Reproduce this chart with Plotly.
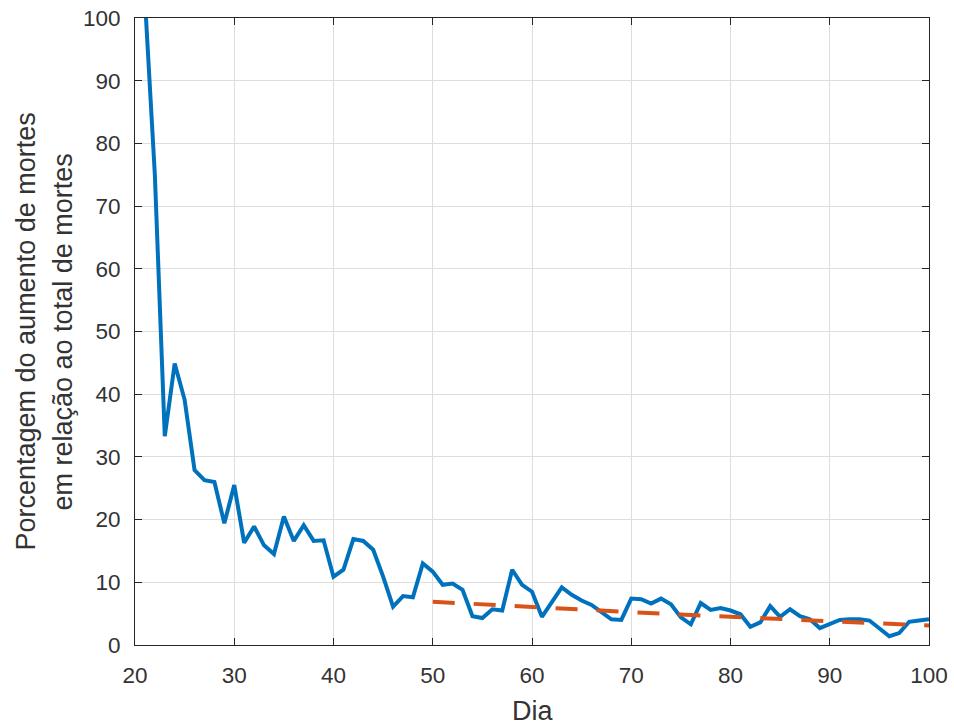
import plotly.graph_objects as go

# Daily percentage increase of deaths relative to total deaths
dias = list(range(21, 101))
porcentagem = [
    103.0, 75.0, 33.3, 44.9, 39.1, 27.9, 26.3, 26.0, 19.4, 25.5,   # 21-30
    16.3, 18.9, 15.9, 14.5, 20.5, 16.6, 19.1, 16.6, 16.7, 10.9,    # 31-40
    12.0, 16.9, 16.6, 15.2, 10.9, 6.1, 7.8, 7.6, 13.0, 11.7,       # 41-50
    9.6, 9.8, 8.8, 4.6, 4.3, 5.7, 5.5, 12.0, 9.6, 8.5,             # 51-60
    4.5, 6.9, 9.2, 8.0, 7.1, 6.4, 5.3, 4.1, 4.0, 7.4,              # 61-70
    7.3, 6.6, 7.4, 6.5, 4.4, 3.3, 6.7, 5.6, 5.9, 5.5,              # 71-80
    4.9, 2.9, 3.6, 6.2, 4.5, 5.7, 4.6, 4.1, 2.7, 3.3,              # 81-90
    4.0, 4.1, 4.1, 3.9, 2.7, 1.4, 1.9, 3.7, 3.9, 4.1,              # 91-100
]

# Fitted trend from day 50 onward
dias_tendencia = [50, 55, 60, 65, 70, 75, 80, 85, 90, 95, 100]
tendencia = [6.9, 6.45, 6.05, 5.65, 5.25, 4.85, 4.5, 4.15, 3.75, 3.4, 3.1]

x_ticks = [20, 30, 40, 50, 60, 70, 80, 90, 100]
y_ticks = [0, 10, 20, 30, 40, 50, 60, 70, 80, 90, 100]

AZUL = "#0072BD"
LARANJA = "#D95319"
EIXO = "#262626"
GRADE = "#dedede"
TEXTO = "#333333"
FONTE = "Liberation Sans, Arial, sans-serif"

fig = go.Figure()
fig.add_trace(go.Scatter(
    x=dias, y=porcentagem, mode="lines",
    line=dict(color=AZUL, width=4), showlegend=False,
))
fig.add_trace(go.Scatter(
    x=dias_tendencia, y=tendencia, mode="lines",
    line=dict(color=LARANJA, width=4, dash="22px,19px"), showlegend=False,
))

eixo_comum = dict(
    showline=True, linecolor=EIXO, linewidth=1, mirror="allticks",
    ticks="inside", ticklen=7, tickcolor=EIXO, tickwidth=1,
    showgrid=True, gridcolor=GRADE, gridwidth=1, zeroline=False,
    automargin=False,
    tickfont=dict(family=FONTE, size=22.5, color=TEXTO),
)

fig.update_xaxes(
    range=[20, 100], tickvals=x_ticks, ticklabelstandoff=10, **eixo_comum,
)
fig.update_yaxes(
    range=[0, 100], tickvals=y_ticks, ticklabelstandoff=9, **eixo_comum,
)

fig.add_annotation(
    text="Dia", xref="paper", yref="paper", x=0.5, y=-0.106,
    xanchor="center", yanchor="middle", showarrow=False,
    font=dict(family=FONTE, size=27, color=TEXTO),
)
fig.add_annotation(
    text="Porcentagem do aumento de mortes", xref="paper", yref="paper",
    x=-0.1385, y=0.5, xanchor="center", yanchor="middle", textangle=-90,
    showarrow=False, font=dict(family=FONTE, size=27, color=TEXTO),
)
fig.add_annotation(
    text="em relação ao total de mortes", xref="paper", yref="paper",
    x=-0.0907, y=0.5, xanchor="center", yanchor="middle", textangle=-90,
    showarrow=False, font=dict(family=FONTE, size=27, color=TEXTO),
)

fig.update_layout(
    width=954, height=725,
    margin=dict(l=135, r=25, t=18, b=80),
    paper_bgcolor="white", plot_bgcolor="white",
)

fig.write_html("out.html")
